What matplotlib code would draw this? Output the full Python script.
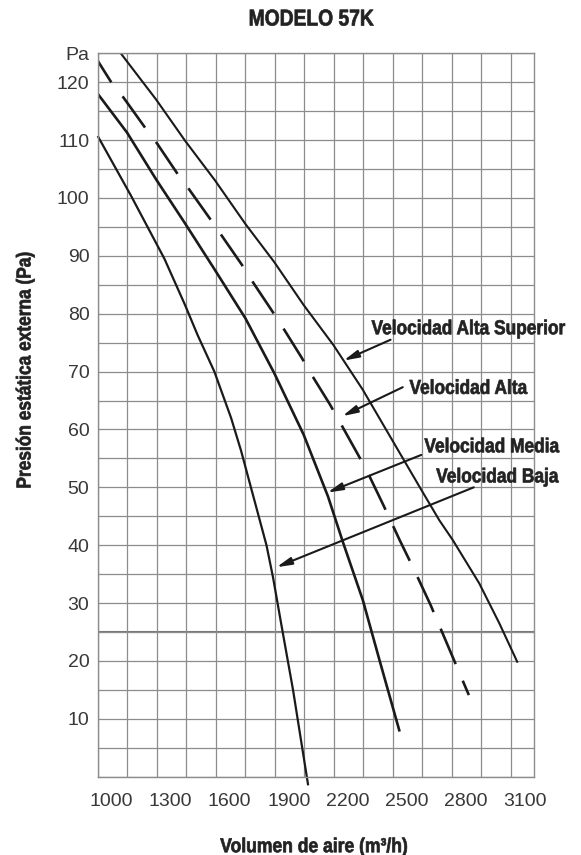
import numpy as np
import matplotlib as mpl
mpl.use('Agg')
import matplotlib.pyplot as plt
from matplotlib import patheffects
from matplotlib.transforms import Affine2D, ScaledTranslation

# data: airflow (m3/h) vs external static pressure (Pa)
baja_x = [1000, 1169, 1339, 1444, 1508, 1593, 1678, 1729, 1858, 1891, 1934, 1993, 2070]
baja_y = [110.7, 100.4, 89.5, 81.5, 76.3, 70.0, 62.0, 56.3, 40.0, 34.5, 26.2, 15.0, -1.5]

media_x = [1000, 1149, 1297, 1446, 1597, 1751, 1898, 2047, 2171, 2247, 2348, 2433, 2535]
media_y = [118.0, 111.3, 103.2, 95.5, 87.5, 79.2, 69.7, 59.1, 48.4, 40.5, 30.5, 20.1, 7.8]

alta_x = [1000, 1076, 1132, 1246, 1302, 1407, 1458, 1571, 1622, 1732, 1780, 1886,
          1936, 2037, 2081, 2181, 2224, 2316, 2362, 2450, 2535, 2611, 2692, 2802, 2887]
alta_y = [123.7, 119.6, 117.3, 111.9, 109.4, 104.1, 101.8, 96.4, 93.9, 88.5, 85.9, 80.5,
          77.9, 72.4, 69.8, 64.3, 61.7, 56.1, 53.3, 47.1, 40.9, 35.6, 29.7, 20.9, 14.1]

sup_x = [1117, 1297, 1446, 1597, 1751, 1898, 2047, 2198, 2347, 2500, 2636, 2737, 2805,
         2940, 3042, 3135]
sup_y = [125.0, 117.0, 109.8, 103.0, 95.5, 88.9, 81.5, 74.6, 66.9, 58.0, 50.1, 44.3, 40.9,
         33.4, 26.5, 19.7]

x_ticks = [1000, 1300, 1600, 1900, 2200, 2500, 2800, 3100]
y_ticks = [10, 20, 30, 40, 50, 60, 70, 80, 90, 100, 110, 120]

# labels: text, text anchor, arrow tail, arrow head
labels = ['Velocidad Alta Superior', 'Velocidad Alta', 'Velocidad Media', 'Velocidad Baja']
label_xy = [(2392, 77.4), (2585, 67.1), (2661, 57.0), (2721, 51.8)]
tail_xy = [(2489, 75.5), (2551, 67.3), (2645, 55.6), (2912, 50.0)]
head_xy = [(2250, 71.9), (2244, 62.3), (2168, 49.1), (1909, 36.2)]


class Squeeze(patheffects.AbstractPathEffect):
    """squash text horizontally to fake a condensed face, with a thin outline to fatten it"""
    def __init__(self, sx, anchor='center', stroke=0.5):
        super().__init__()
        self.sx = sx
        self.anchor = anchor
        self.stroke = stroke

    def draw_path(self, renderer, gc, tpath, affine, rgbFace=None):
        v = tpath.vertices
        if len(v):
            cx = v[:, 0].min() if self.anchor == 'left' else (v[:, 0].min() + v[:, 0].max()) / 2
        else:
            cx = 0
        t = Affine2D().translate(-cx, 0).scale(self.sx, 1).translate(cx, 0)
        gc0 = renderer.new_gc()
        gc0.copy_properties(gc)
        if rgbFace is not None and self.stroke:
            gc0.set_foreground(rgbFace)
            gc0.set_linewidth(self.stroke)
        renderer.draw_path(gc0, tpath, t + affine, rgbFace)
        gc0.restore()


font = 'Liberation Sans'
mpl.rcParams['lines.scale_dashes'] = False
grid_c = '#8c8c8c'
lc = '#1a1a1a'
tc = '#222222'

plt.close('all')
fig = plt.figure(figsize=(5.81, 8.55), dpi=100)
ax = fig.add_axes([0.1682, 0.0916, 0.7515, 0.8461])

ax.set_xlim(1000, 3220)
ax.set_ylim(0, 125)

ax.set_xticks(x_ticks)
ax.set_xticks(np.arange(1000, 3220, 150), minor=True)
ax.set_yticks(y_ticks + [125])
ax.set_yticklabels([str(v) for v in y_ticks] + ['Pa'])
ax.set_yticks(np.arange(0, 126, 5), minor=True)
ax.grid(which='both', color=grid_c, lw=0.9)
ax.axhline(25, color='#777777', lw=1.5, zorder=1)
ax.tick_params(which='both', length=0)
ax.tick_params(axis='x', pad=12)
ax.tick_params(axis='y', pad=6)
for lab in ax.get_xticklabels() + ax.get_yticklabels():
    lab.set_fontfamily(font)
    lab.set_fontsize(14)
    lab.set_color('#383838')
# x labels sit half a cell to the right of their grid line
for lab in ax.get_xticklabels():
    lab.set_transform(lab.get_transform() + ScaledTranslation(0.14, 0, fig.dpi_scale_trans))
for s in ax.spines.values():
    s.set_color(grid_c)
    s.set_linewidth(1.0)

ax.plot(baja_x, baja_y, color=lc, lw=1.6, clip_on=False, solid_capstyle='butt')
ax.plot(media_x, media_y, color=lc, lw=1.9, solid_capstyle='butt')
ax.plot(alta_x, alta_y, color=lc, lw=1.9, linestyle=(9.4, (27.7, 13.0)),
        dash_capstyle='butt')
ax.plot(sup_x, sup_y, color=lc, lw=1.5, solid_capstyle='butt')

for txt, pos, tail, head in zip(labels, label_xy, tail_xy, head_xy):
    ax.text(pos[0], pos[1], txt, family=font, weight='bold', fontsize=14.5,
            color=tc, ha='left', va='center', clip_on=False,
            path_effects=[Squeeze(0.86, 'left')])
    ax.annotate('', xy=head, xytext=tail,
                arrowprops=dict(arrowstyle='-|>,head_length=0.9,head_width=0.22',
                                color=lc, lw=1.5, shrinkA=0, shrinkB=0))

fig.text(311 / 581, 1 - 19 / 855, 'MODELO 57K', family=font, weight='bold',
         fontsize=16.5, color=tc, ha='center', va='center',
         path_effects=[Squeeze(0.84)])
fig.text(314 / 581, 1 - 846.7 / 855, 'Volumen de aire (m³/h)', family=font,
         weight='bold', fontsize=14.5, color=tc, ha='center', va='center',
         path_effects=[Squeeze(0.87)])
fig.text(25 / 581, 1 - 370 / 855, 'Presión estática externa (Pa)', family=font,
         weight='bold', fontsize=14.5, color=tc, ha='center', va='center',
         rotation=90, path_effects=[Squeeze(0.86)])

fig.savefig('out.png', dpi=100)
